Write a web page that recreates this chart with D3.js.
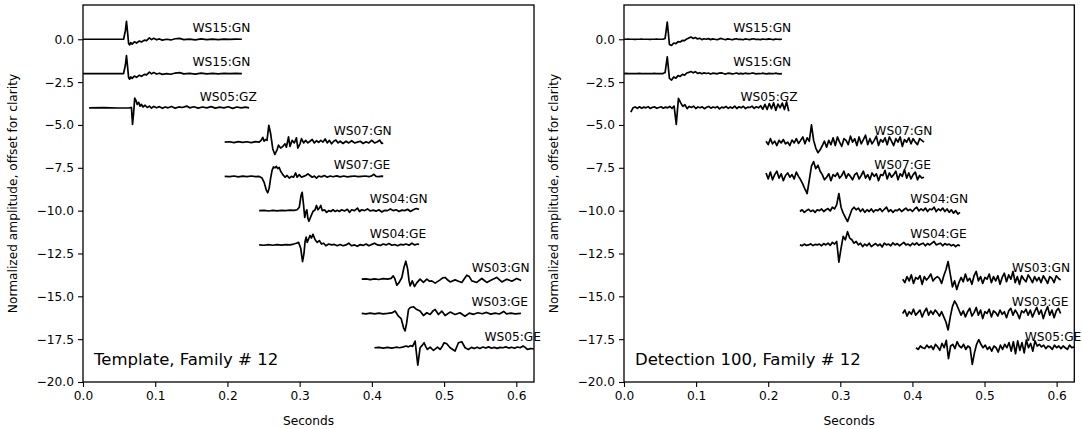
<!DOCTYPE html>
<html><head><meta charset="utf-8">
<script src="https://cdn.jsdelivr.net/npm/d3@7"></script>
<style>body{margin:0;background:#fff}svg{display:block}text{font-family:"DejaVu Sans",sans-serif;fill:#000}</style>
</head><body>
<svg id="chart" width="1082" height="429"></svg>
<script>
// ---------- data ----------
const stations = ["WS15:GN","WS15:GN","WS05:GZ","WS07:GN","WS07:GE","WS04:GN","WS04:GE","WS03:GN","WS03:GE","WS05:GE"];
const offsets = [0,-2,-4,-6,-8,-10,-12,-14,-16,-18];
const xTicks = [0.0,0.1,0.2,0.3,0.4,0.5,0.6];
const yTicks = [0,-2.5,-5,-7.5,-10,-12.5,-15,-17.5,-20];
const panelTitles = ["Template, Family # 12","Detection 100, Family # 12"];

// template traces: [seconds, normalized amplitude]
const tmplWS15GN = [[0,0],[0.0562,0],[0.0587,0.5],[0.0602,1.05],[0.0617,0.4],[0.0632,-0.25],[0.0646,-0.33],[0.0661,-0.2],[0.0681,-0.28],[0.0711,-0.15],[0.0741,-0.22],[0.0780,-0.1],[0.0810,-0.16],[0.0850,-0.05],[0.0880,-0.08],[0.0919,0.08],[0.0949,-0.02],[0.0979,0.06],[0.1019,-0.03],[0.1059,0.02],[0.1098,-0.05],[0.1158,0.0],[0.1217,-0.04],[0.1277,0.03],[0.1337,0.05],[0.1396,-0.02],[0.1476,0.01],[0.1555,-0.03],[0.1635,0.02],[0.1714,-0.02],[0.1793,0.01],[0.1873,-0.02],[0.1952,0.01],[0.2032,-0.01],[0.2111,0.01],[0.2200,0]];
const tmplWS05GZ = [[0.0085,0],[0.0284,0.01],[0.0483,-0.01],[0.0641,0],[0.0671,0.02],[0.0686,-0.97],[0.0701,-0.3],[0.0716,0.57],[0.0731,0.45],[0.0751,0.2],[0.0771,0.32],[0.0790,0.1],[0.0810,0.2],[0.0830,0.05],[0.0860,0.15],[0.0890,0.02],[0.0919,0.1],[0.0949,-0.02],[0.0979,0.08],[0.1019,0.0],[0.1059,0.07],[0.1098,-0.03],[0.1138,0.05],[0.1178,0.0],[0.1227,0.08],[0.1277,-0.02],[0.1327,0.05],[0.1376,0.02],[0.1436,0.1],[0.1476,0.0],[0.1535,0.06],[0.1595,-0.02],[0.1654,0.05],[0.1714,0.0],[0.1774,0.07],[0.1833,-0.02],[0.1893,0.04],[0.1952,0.0],[0.2012,0.06],[0.2072,-0.03],[0.2131,0.05],[0.2191,0.0],[0.2250,0.04],[0.2300,0.0]];
const tmplWS07GN = [[0.1962,0],[0.2032,0.02],[0.2091,-0.03],[0.2151,0.03],[0.2211,-0.02],[0.2270,0.02],[0.2330,-0.03],[0.2389,0.03],[0.2439,0.0],[0.2469,0.12],[0.2489,0.28],[0.2508,0.05],[0.2528,0.15],[0.2548,0.1],[0.2573,0.98],[0.2598,0.5],[0.2628,-0.4],[0.2657,-0.72],[0.2687,-0.45],[0.2707,-0.18],[0.2737,-0.35],[0.2767,-0.25],[0.2797,-0.1],[0.2816,-0.3],[0.2846,0.3],[0.2866,-0.25],[0.2896,0.1],[0.2926,-0.05],[0.2955,0.25],[0.2975,-0.35],[0.3005,-0.1],[0.3025,0.2],[0.3055,-0.05],[0.3084,0.1],[0.3114,-0.05],[0.3144,0.05],[0.3174,0.15],[0.3204,-0.05],[0.3233,0.08],[0.3263,-0.02],[0.3293,0.1],[0.3323,0.0],[0.3353,0.18],[0.3382,-0.05],[0.3412,0.1],[0.3442,-0.1],[0.3472,0.05],[0.3502,0.12],[0.3531,-0.05],[0.3561,0.05],[0.3601,-0.08],[0.3641,0.05],[0.3680,-0.05],[0.3720,0.08],[0.3760,-0.05],[0.3800,0.0],[0.3839,0.05],[0.3879,-0.08],[0.3919,0.02],[0.3958,-0.05],[0.3998,0.1],[0.4038,-0.05],[0.4078,0.02],[0.4107,0.12],[0.4137,-0.08],[0.4157,-0.05]];
const tmplWS07GE = [[0.1962,0],[0.2032,-0.02],[0.2091,0.02],[0.2151,-0.03],[0.2211,0.01],[0.2270,-0.02],[0.2330,0.02],[0.2389,-0.02],[0.2439,0.0],[0.2479,-0.1],[0.2508,-0.35],[0.2538,-0.8],[0.2558,-0.96],[0.2578,-0.7],[0.2598,-0.1],[0.2618,0.35],[0.2638,0.55],[0.2657,0.5],[0.2677,0.58],[0.2697,0.45],[0.2717,0.52],[0.2737,0.3],[0.2767,0.1],[0.2797,-0.05],[0.2826,0.05],[0.2856,-0.1],[0.2886,0.0],[0.2916,-0.05],[0.2945,0.2],[0.2965,-0.05],[0.2995,0.1],[0.3025,-0.05],[0.3055,0.0],[0.3084,0.05],[0.3114,0.15],[0.3144,0.05],[0.3174,-0.05],[0.3204,0.02],[0.3233,-0.1],[0.3263,0.02],[0.3303,-0.03],[0.3343,0.05],[0.3382,-0.05],[0.3422,0.02],[0.3462,-0.02],[0.3512,0.03],[0.3561,-0.03],[0.3611,0.02],[0.3661,-0.03],[0.3710,0.0],[0.3760,0.02],[0.3809,-0.02],[0.3859,0.0],[0.3909,0.02],[0.3958,-0.02],[0.3998,0.03],[0.4028,0.12],[0.4058,0.0],[0.4097,-0.02],[0.4137,0.01],[0.4157,0.0]];
const tmplWS04GN = [[0.2439,0],[0.2508,0.02],[0.2568,-0.02],[0.2628,0.02],[0.2687,-0.01],[0.2747,0.02],[0.2806,0.0],[0.2866,0.03],[0.2926,0.02],[0.2965,0.05],[0.2995,0.2],[0.3020,0.9],[0.3035,1.07],[0.3055,0.3],[0.3070,-0.4],[0.3084,-0.1],[0.3099,0.05],[0.3114,-0.45],[0.3129,-0.62],[0.3154,-0.35],[0.3184,-0.05],[0.3214,0.05],[0.3233,0.3],[0.3253,0.05],[0.3273,0.15],[0.3293,0.3],[0.3313,0.0],[0.3343,0.05],[0.3373,-0.1],[0.3402,0.0],[0.3432,-0.05],[0.3462,0.05],[0.3492,-0.05],[0.3521,0.02],[0.3551,-0.05],[0.3581,0.05],[0.3621,-0.02],[0.3661,0.08],[0.3690,-0.1],[0.3720,0.05],[0.3760,0.0],[0.3800,0.15],[0.3829,-0.05],[0.3859,0.05],[0.3899,0.0],[0.3939,0.1],[0.3978,-0.02],[0.4018,0.03],[0.4058,-0.03],[0.4097,0.05],[0.4137,-0.08],[0.4177,0.02],[0.4217,0.0],[0.4256,0.1],[0.4296,0.0],[0.4336,0.05],[0.4376,-0.05],[0.4415,0.03],[0.4455,0.0],[0.4495,0.08],[0.4534,-0.05],[0.4574,0.05],[0.4614,0.12],[0.4654,0.08]];
const tmplWS04GE = [[0.2439,0],[0.2508,-0.02],[0.2568,0.02],[0.2628,-0.02],[0.2687,0.02],[0.2747,-0.01],[0.2806,0.02],[0.2866,0.0],[0.2916,0.05],[0.2955,0.1],[0.2985,0.15],[0.3015,-0.2],[0.3040,-0.98],[0.3060,-0.5],[0.3075,0.2],[0.3090,0.45],[0.3104,0.15],[0.3124,0.35],[0.3144,0.55],[0.3164,0.4],[0.3184,0.62],[0.3214,0.3],[0.3243,0.15],[0.3273,0.25],[0.3303,0.05],[0.3333,0.1],[0.3363,-0.05],[0.3402,0.05],[0.3442,0.0],[0.3482,0.03],[0.3521,-0.05],[0.3561,0.02],[0.3601,-0.05],[0.3641,0.0],[0.3680,0.1],[0.3720,-0.05],[0.3760,0.0],[0.3800,-0.08],[0.3839,0.02],[0.3879,-0.03],[0.3919,0.05],[0.3958,-0.05],[0.3998,0.03],[0.4038,0.1],[0.4078,0.0],[0.4117,-0.03],[0.4157,0.05],[0.4197,0.0],[0.4237,0.08],[0.4276,-0.02],[0.4316,0.02],[0.4356,-0.05],[0.4395,0.03],[0.4435,0.0],[0.4475,0.05],[0.4515,-0.02],[0.4554,0.1],[0.4594,0.0],[0.4634,0.05],[0.4654,0.02]];
const tmplWS03GN = [[0.3859,0],[0.3919,0.02],[0.3978,-0.03],[0.4038,0.02],[0.4097,-0.02],[0.4157,0.03],[0.4217,0.0],[0.4266,0.05],[0.4296,0.19],[0.4316,0.05],[0.4346,-0.35],[0.4376,-0.2],[0.4415,0.1],[0.4445,0.7],[0.4470,1.05],[0.4495,0.6],[0.4515,-0.1],[0.4530,-0.39],[0.4559,-0.1],[0.4590,-0.43],[0.4624,-0.2],[0.4668,0.0],[0.4714,-0.19],[0.4761,0.0],[0.4798,-0.12],[0.4829,-0.1],[0.4876,-0.23],[0.4945,-0.04],[0.4981,0.08],[0.5014,0.1],[0.5051,-0.05],[0.5084,-0.16],[0.5152,-0.04],[0.5200,-0.12],[0.5245,-0.19],[0.5314,0.23],[0.5349,0.15],[0.5384,-0.1],[0.5452,-0.19],[0.5522,0.04],[0.5591,-0.19],[0.5661,-0.04],[0.5729,0.1],[0.5799,-0.16],[0.5868,0.0],[0.5938,-0.12],[0.6006,0.04],[0.6067,-0.08]];
const tmplWS03GE = [[0.3859,0],[0.3919,-0.02],[0.3978,0.02],[0.4038,-0.02],[0.4097,0.02],[0.4157,-0.02],[0.4217,0.0],[0.4276,0.03],[0.4322,0.14],[0.4368,-0.16],[0.4405,-0.3],[0.4440,-0.85],[0.4460,-1.02],[0.4480,-0.6],[0.4507,0.23],[0.4535,0.35],[0.4575,0.39],[0.4614,0.25],[0.4668,0.14],[0.4714,-0.12],[0.4761,0.04],[0.4807,-0.06],[0.4847,0.15],[0.4876,0.23],[0.4922,-0.06],[0.4968,0.14],[0.5014,-0.12],[0.5084,0.08],[0.5152,-0.06],[0.5220,0.04],[0.5289,-0.16],[0.5349,0.02],[0.5408,-0.05],[0.5468,0.04],[0.5528,-0.02],[0.5587,0.06],[0.5647,-0.04],[0.5706,0.02],[0.5766,-0.03],[0.5825,0.12],[0.5865,-0.02],[0.5925,0.02],[0.5984,-0.02],[0.6064,0.0]];
const tmplWS05GE = [[0.4035,0],[0.4097,0.02],[0.4157,-0.02],[0.4217,0.02],[0.4276,-0.02],[0.4336,0.03],[0.4386,0.0],[0.4435,0.05],[0.4475,0.1],[0.4505,0.05],[0.4534,0.12],[0.4564,0.08],[0.4599,0.39],[0.4614,-0.2],[0.4636,-1.01],[0.4652,-0.5],[0.4668,0.0],[0.4693,0.12],[0.4723,0.29],[0.4748,0.05],[0.4770,-0.1],[0.4807,0.04],[0.4853,-0.16],[0.4909,0.04],[0.4945,-0.1],[0.4971,0.05],[0.5000,0.29],[0.5037,0.23],[0.5084,0.0],[0.5152,-0.19],[0.5199,0.29],[0.5245,0.35],[0.5291,0.0],[0.5337,-0.1],[0.5379,0.02],[0.5418,-0.05],[0.5458,0.03],[0.5498,-0.04],[0.5537,0.04],[0.5577,-0.02],[0.5617,0.05],[0.5657,-0.03],[0.5696,0.02],[0.5736,-0.04],[0.5776,0.02],[0.5815,0.0],[0.5855,0.05],[0.5895,-0.02],[0.5935,0.03],[0.5974,-0.03],[0.6014,0.04],[0.6054,0.0],[0.6094,0.1],[0.6123,0.02],[0.6153,-0.1],[0.6193,-0.05],[0.6243,-0.06]];
const templateTraces = [tmplWS15GN,tmplWS15GN,tmplWS05GZ,tmplWS07GN,tmplWS07GE,tmplWS04GN,tmplWS04GE,tmplWS03GN,tmplWS03GE,tmplWS05GE];

// detection traces: start time (s), sample interval (s), sampled amplitudes
const detStart = [0.0,0.0,0.0095,0.197,0.197,0.244,0.244,0.3865,0.3865,0.405];
const detDelta = 0.003;
const detWS15GNa = [0,0,0.01,0,0,-0.01,0,0,0.01,0,0,0,-0.01,0,0,0.01,0,0,0,0.05,1.0,-0.3,-0.36,-0.22,-0.26,-0.14,-0.16,-0.06,-0.08,0.02,0.08,0.13,0.05,0.1,0.02,0.06,-0.02,0.03,0.0,0.04,-0.02,0.02,0.0,-0.03,0.02,0.05,0.0,-0.02,0.02,0.0,-0.03,0.01,0.03,-0.01,0.0,-0.03,0.02,0.0,-0.02,0.01,0.03,-0.01,0.0,-0.02,0.01,0.0,-0.01,0.02,0.0,-0.02,0.01,0.0,-0.01,0.0];
const detWS15GNb = [0,0.01,0,0,-0.01,0,0,0.01,0,0,-0.01,0,0,0,0.01,0,0,0,0,0.06,0.98,-0.28,-0.38,-0.2,-0.27,-0.12,-0.17,-0.05,-0.09,0.03,0.07,0.12,0.04,0.11,0.01,0.05,-0.01,0.04,0.0,0.03,-0.03,0.02,0.01,-0.02,0.03,0.04,0.0,-0.03,0.02,0.01,-0.02,0.0,0.03,-0.02,0.01,-0.02,0.02,0.0,-0.01,0.02,0.02,-0.02,0.0,-0.01,0.02,0.0,-0.02,0.01,0.0,-0.01,0.02,0.0,-0.02,0.0];
const detWS05GZ = [-0.25,0.0,0.05,-0.03,0.06,-0.02,0.04,0.0,0.07,-0.04,0.03,0.05,-0.03,0.02,0.06,-0.02,0.04,0.0,0.08,-0.03,0.1,-0.97,0.55,0.3,0.08,0.18,-0.05,0.08,0.02,0.1,-0.04,0.05,0.0,0.06,-0.05,0.03,0.08,-0.02,0.05,0.0,0.07,-0.06,0.04,0.0,0.08,-0.03,0.05,-0.02,0.1,-0.04,0.06,0.0,0.09,-0.05,0.04,0.02,0.1,-0.03,0.06,0.0,0.12,-0.08,0.2,-0.1,0.25,-0.05,0.3,-0.15,0.22,0.0,0.28,-0.1,0.35,-0.2];
const detWS07GN = [0.05,-0.15,0.2,-0.1,0.05,-0.2,0.1,-0.05,0.15,-0.1,0.0,-0.2,0.12,-0.05,0.2,-0.08,0.1,0.3,-0.1,0.25,0.05,1.0,0.1,-0.35,-0.62,-0.45,-0.2,0.05,-0.3,0.1,-0.15,0.25,-0.2,0.3,0.0,-0.25,0.2,0.1,-0.15,0.35,0.0,0.2,-0.2,0.3,-0.1,0.15,0.4,-0.15,0.2,-0.1,0.1,0.35,-0.2,0.15,0.0,0.25,-0.15,0.3,0.05,-0.2,0.2,0.0,0.3,-0.25,0.15,0.0,0.25,-0.1,0.2,0.0,-0.15,0.2,0.1,0.0];
const detWS07GE = [0.2,-0.15,0.25,-0.2,0.1,0.3,-0.1,0.15,-0.25,0.05,0.2,-0.05,0.1,-0.15,0.25,0.0,-0.2,-0.45,-0.75,-1.0,-0.2,0.6,0.86,0.45,0.65,0.3,0.1,-0.2,-0.05,0.15,-0.25,0.1,0.0,0.2,-0.1,0.05,0.3,-0.1,0.15,0.0,-0.2,0.1,0.2,-0.15,0.05,0.3,-0.1,0.1,-0.2,0.2,0.0,0.15,-0.25,0.1,0.05,0.35,-0.15,0.2,-0.05,0.1,0.3,-0.2,0.15,0.0,0.4,-0.1,0.2,-0.15,0.1,0.25,-0.2,0.05,-0.1,-0.05];
const detWS04GN = [-0.05,0.05,-0.1,0.0,0.08,-0.05,0.03,-0.1,0.05,0.0,0.1,-0.05,0.05,0.12,-0.02,0.2,0.1,0.35,1.0,0.2,-0.15,-0.4,-0.64,-0.3,0.05,0.2,0.05,0.15,-0.05,0.1,-0.1,0.05,-0.05,0.1,-0.08,0.05,0.0,0.12,-0.05,0.08,0.2,-0.05,0.05,-0.1,0.03,0.0,0.1,-0.05,0.05,0.15,0.0,0.08,-0.05,0.1,0.2,-0.02,0.1,0.0,0.15,-0.05,0.1,0.05,0.2,-0.05,0.1,0.0,0.15,-0.05,0.1,-0.1,0.05,-0.15,0.0,-0.2,-0.1];
const detWS04GE = [0.0,-0.05,0.05,-0.03,0.0,0.06,-0.04,0.03,0.0,0.05,-0.05,0.08,0.0,0.1,-0.03,0.15,0.05,0.2,-1.0,-0.2,0.5,0.3,0.77,0.4,0.3,0.1,0.2,0.0,0.1,-0.1,0.05,-0.05,0.1,-0.1,0.0,0.08,-0.05,0.05,-0.12,0.1,0.0,0.05,-0.05,0.12,0.0,0.08,-0.05,0.05,0.15,0.0,0.05,-0.05,0.1,0.0,0.12,-0.02,0.05,0.1,-0.05,0.08,0.0,0.1,0.2,0.0,0.05,0.1,-0.05,0.08,0.0,0.05,-0.05,0.02,-0.1,0.0,-0.05];
const detWS03GN = [0.0,-0.2,0.15,-0.1,0.25,-0.25,0.1,0.0,0.2,-0.3,0.15,-0.05,0.1,0.3,-0.1,0.05,0.15,0.05,-0.25,0.2,0.55,1.03,0.3,-0.45,-0.1,-0.6,-0.2,0.1,-0.15,0.3,-0.1,0.05,-0.3,0.2,0.45,-0.1,0.15,-0.25,0.1,0.0,0.3,-0.2,0.15,-0.1,0.2,-0.3,0.1,0.35,-0.15,0.25,0.0,0.45,-0.2,0.15,-0.3,0.2,0.0,-0.15,0.25,0.05,-0.2,0.15,-0.1,0.1,-0.2,0.2,0.0,-0.25,0.15,0.05,-0.2,0.2,0.05,-0.05];
const detWS03GE = [0.0,0.2,-0.15,0.1,-0.05,0.25,-0.1,0.05,0.2,-0.2,0.1,0.3,-0.1,0.15,-0.05,0.2,0.05,-0.15,0.1,-0.2,-0.5,-0.96,-0.2,0.4,0.73,0.5,0.2,-0.1,0.15,-0.2,0.1,0.3,-0.15,0.05,0.35,-0.1,0.2,-0.3,0.1,0.0,0.25,-0.2,0.15,0.05,-0.15,0.2,-0.05,0.1,-0.25,0.15,0.3,-0.1,0.2,0.0,-0.3,0.15,0.05,0.25,-0.1,0.2,-0.2,0.1,0.35,-0.05,0.2,-0.3,0.1,0.4,-0.1,0.2,-0.25,0.15,0.3,0.0];
const detWS05GE = [0.0,-0.1,0.1,0.0,-0.05,0.15,0.0,0.1,-0.1,0.2,0.05,-0.15,0.25,0.0,0.43,-0.64,0.1,0.2,-0.05,0.35,0.1,0.0,0.2,-0.1,0.1,0.0,-0.97,-0.3,0.2,0.47,0.2,0.0,0.15,-0.1,0.05,-0.2,0.1,0.0,-0.25,0.15,-0.1,0.2,0.0,0.3,-0.2,0.35,-0.35,0.4,-0.15,0.3,-0.3,0.45,0.0,0.25,-0.2,0.4,0.1,0.2,0.05,0.15,-0.05,0.1,0.05,-0.1,0.15,0.0,0.1,-0.05,0.1,0.0,-0.1,0.15,0.0,0.05];
const detectionSamples = [detWS15GNa,detWS15GNb,detWS05GZ,detWS07GN,detWS07GE,detWS04GN,detWS04GE,detWS03GN,detWS03GE,detWS05GE];

// ---------- drawing ----------
const W = 1082, H = 429;
const svg = d3.select("#chart");
svg.append("rect").attr("width", W).attr("height", H).attr("fill", "#fff");
const panels = [{x0: 83, x1: 534}, {x0: 624, x1: 1074.3}];
const plotTop = 5, plotBottom = 382;
const xMax = 0.6245, labelLead = 0.0685, labelRise = 0.42;

const detectionTraces = detectionSamples.map((vals, i) => vals.map((v, k) => [detStart[i] + k * detDelta, v]));
const allTraces = [templateTraces, detectionTraces];

panels.forEach((p, pi) => {
  const x = d3.scaleLinear().domain([0, xMax]).range([p.x0, p.x1]);
  const y = d3.scaleLinear().domain([-20, 2]).range([plotBottom, plotTop]);
  const g = svg.append("g");
  const clipId = "clip" + pi;
  g.append("clipPath").attr("id", clipId).append("rect")
    .attr("x", p.x0).attr("y", plotTop).attr("width", p.x1 - p.x0).attr("height", plotBottom - plotTop);

  const traces = allTraces[pi];
  traces.forEach((tr, i) => {
    const off = offsets[i];
    const line = d3.line().x(d => x(d[0])).y(d => y(d[1] + off));
    g.append("path")
      .attr("clip-path", `url(#${clipId})`)
      .attr("d", line(tr))
      .attr("fill", "none").attr("stroke", "#000").attr("stroke-width", 1.7)
      .attr("stroke-linejoin", "round");
    const tEnd = templateTraces[i][templateTraces[i].length - 1][0];
    g.append("text")
      .attr("x", x(tEnd - labelLead)).attr("y", y(off + labelRise))
      .attr("font-size", "12.2px").text(stations[i]);
  });

  // axes
  const fmt = d3.format(".1f");
  const xa = g.append("g").attr("transform", `translate(0,${plotBottom})`)
    .call(d3.axisBottom(x).tickValues(xTicks).tickFormat(fmt).tickSize(5).tickPadding(4).tickSizeOuter(0));
  const ya = g.append("g").attr("transform", `translate(${p.x0},0)`)
    .call(d3.axisLeft(y).tickValues(yTicks).tickFormat(fmt).tickSize(5).tickPadding(4).tickSizeOuter(0));
  [xa, ya].forEach(a => {
    a.select(".domain").remove();
    a.selectAll("line").attr("stroke", "#000").attr("stroke-width", 1.1);
    a.selectAll("text").attr("font-size", "12.2px").attr("font-family", "DejaVu Sans").attr("fill", "#000");
  });

  g.append("rect").attr("x", p.x0).attr("y", plotTop).attr("width", p.x1 - p.x0).attr("height", plotBottom - plotTop)
    .attr("fill", "none").attr("stroke", "#000").attr("stroke-width", 1.3);

  g.append("text").attr("x", p.x0 + 11).attr("y", plotBottom - 17)
    .attr("font-size", "16.5px").text(panelTitles[pi]);

  g.append("text").attr("x", (p.x0 + p.x1) / 2).attr("y", 425)
    .attr("text-anchor", "middle").attr("font-size", "12.2px").text("Seconds");

  g.append("text").attr("transform", `translate(${p.x0 - 66},${(plotTop + plotBottom) / 2}) rotate(-90)`)
    .attr("text-anchor", "middle").attr("font-size", "12.2px")
    .text("Normalized amplitude, offset for clarity");
});
</script>
</body></html>
